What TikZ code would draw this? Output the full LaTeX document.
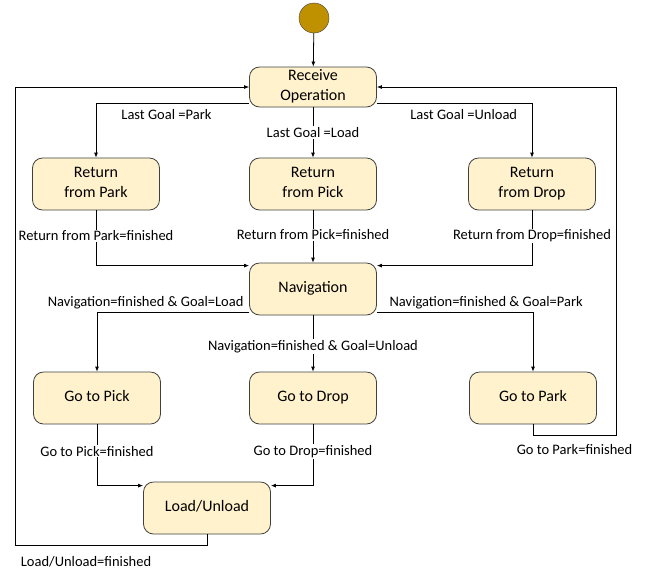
\documentclass[tikz,border=0pt]{standalone}
\usepackage{fontspec}
\setmainfont{Carlito}
\usetikzlibrary{positioning, arrows.meta}
\definecolor{statefill}{RGB}{255,242,204}
\definecolor{initfill}{RGB}{191,144,0}
\definecolor{edgeclr}{RGB}{64,64,64}

\begin{document}
\begin{tikzpicture}[
    x=1pt, y=-1pt,
    state/.style={rectangle, rounded corners=10pt, draw=edgeclr, fill=statefill, line width=0.8pt,
        minimum width=127pt, minimum height=52pt, align=center, inner sep=2pt, text depth=3.5pt,
        font=\fontsize{16}{20}\selectfont},
    init/.style={circle, draw=edgeclr, fill=initfill, minimum size=30pt, inner sep=0pt},
    trans/.style={draw=black, line width=0.8pt, -{Latex[length=5pt,width=4pt]}},
    guard/.style={font=\fontsize{14.5}{17}\selectfont, inner sep=1pt},
    cut/.style={guard, fill=white},
]
\useasboundingbox (0,0) rectangle (652,571);

% Draw the states
\node[init] (start) at (314,18) {};
\node[state, minimum height=40pt] (recv) at (313,87) {Receive\\Operation};
\node[state] (retPark) at (96,184) {Return\\from Park};
\node[state] (retPick) at (313,184) {Return\\from Pick};
\node[state] (retDrop) at (532,184) {Return\\from Drop};
\node[state] (nav) at (313,289) {Navigation};
\node[state] (goPick) at (97,398) {Go to Pick};
\node[state] (goDrop) at (313,398) {Go to Drop};
\node[state] (goPark) at (533,398) {Go to Park};
\node[state] (load) at (207,508) {Load/Unload};

\coordinate (loopR) at (616,435);
\coordinate (loopL) at (15,545);

% Draw the transitions
\draw[trans] (start) -- (recv);
\draw[trans] ([yshift=4pt]recv.south west) -| (retPark) node[guard, below=5pt, pos=0.27] {Last Goal =Park};
\draw[trans] (recv) -- (retPick) node[cut, midway] {Last Goal =Load};
\draw[trans] ([yshift=4pt]recv.south east) -| (retDrop) node[guard, below=5pt, pos=0.28] {Last Goal =Unload};

\draw[trans] (retPark) |- ([yshift=-3pt]nav.north west) node[cut, pos=0.23] {Return from Park=finished};
\draw[trans] (retPick) -- (nav) node[cut, pos=0.47] {Return from Pick=finished};
\draw[trans] (retDrop) |- ([yshift=-3pt]nav.north east) node[cut, pos=0.23] {Return from Drop=finished};

\draw[trans] ([yshift=3pt]nav.south west) -| (goPick) node[guard, above=2pt, pos=0.34] {Navigation=finished \& Goal=Load};
\draw[trans] (nav) -- (goDrop) node[cut, pos=0.55] {Navigation=finished \& Goal=Unload};
\draw[trans] ([yshift=3pt]nav.south east) -| (goPark) node[guard, above=2pt, pos=0.35] {Navigation=finished \& Goal=Park};

\draw[trans] (goPick) |- ([yshift=-4pt]load.north west) node[cut, pos=0.22] {Go to Pick=finished};
\draw[trans] (goDrop) |- ([yshift=-4pt]load.north east) node[cut, pos=0.22] {Go to Drop=finished};

\draw[trans] (goPark) |- (loopR) node[guard, below=8pt, pos=0.75] {Go to Park=finished} |- (recv);
\draw[trans] (load) |- (loopL) node[guard, below=10pt, pos=0.815] {Load/Unload=finished} |- (recv);

\end{tikzpicture}
\end{document}
